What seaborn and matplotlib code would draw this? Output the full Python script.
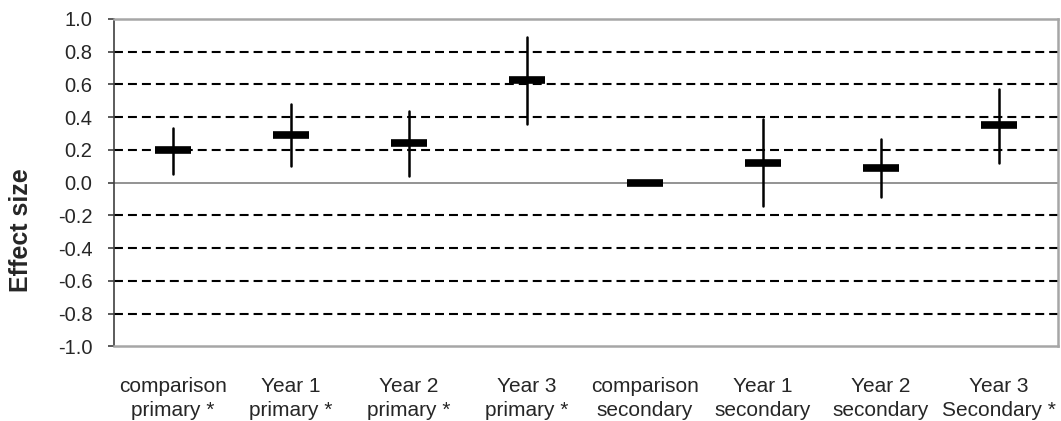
import matplotlib
matplotlib.use("Agg")
import matplotlib.pyplot as plt
import seaborn as sns
import pandas as pd

# effect sizes, with the lower / upper ends of each interval
groups = ["comparison\nprimary *", "Year 1\nprimary *", "Year 2\nprimary *", "Year 3\nprimary *",
          "comparison\nsecondary", "Year 1\nsecondary", "Year 2\nsecondary", "Year 3\nSecondary *"]
effect = [0.20, 0.29, 0.24, 0.63, 0.00, 0.12, 0.09, 0.35]
lower = [0.055, 0.10, 0.04, 0.36, 0.00, -0.14, -0.085, 0.12]
upper = [0.335, 0.48, 0.44, 0.89, 0.00, 0.39, 0.265, 0.575]
yticks = [-1.0, -0.8, -0.6, -0.4, -0.2, 0.0, 0.2, 0.4, 0.6, 0.8, 1.0]

# long form: three rows per group, median gives the estimate, min/max the interval
rows = []
for g, lo, e, hi in zip(groups, lower, effect, upper):
    for v in (lo, e, hi):
        rows.append({"group": g, "value": v})
df = pd.DataFrame(rows)

sns.set_style("white")
plt.rcParams["font.family"] = ["Liberation Sans", "DejaVu Sans"]

fig, ax = plt.subplots(figsize=(10.61, 4.21), dpi=100)
fig.subplots_adjust(left=0.1074, right=0.997, top=0.955, bottom=0.177)

# dashed grid, solid grey zero line
for y in yticks:
    if y == 0.0:
        ax.axhline(y, color="#808080", lw=1.2, zorder=1)
    elif abs(y) < 1.0:
        ax.axhline(y, color="black", lw=1.5, ls=(0, (4.3, 2.4)), zorder=1)

sns.pointplot(data=df, x="group", y="value", order=groups,
              estimator="median", errorbar=lambda v: (v.min(), v.max()),
              color="black", markers="_", linestyles="none",
              markersize=26, markeredgewidth=5.5,
              err_kws={"linewidth": 1.8}, ax=ax, zorder=3)

ax.set_ylim(-1.0, 1.0)
ax.set_xlim(-0.5, len(groups) - 0.5)
ax.set_yticks(yticks)
ax.set_yticklabels([f"{t:.1f}" for t in yticks], fontsize=14.5)
ax.tick_params(axis="y", direction="out", length=4.5, width=1.2, color="#404040", left=True, pad=11)
ax.tick_params(axis="x", length=0, labelsize=15, pad=22)
for lbl in ax.get_xticklabels():
    lbl.set_linespacing(1.3)
ax.set_xlabel("")
ax.set_ylabel("Effect size", fontsize=18, fontweight="bold")
ax.yaxis.set_label_coords(-0.0858, 0.356)

for side in ["top", "right", "bottom"]:
    ax.spines[side].set_color("#a6a6a6")
    ax.spines[side].set_linewidth(1.8)
ax.spines["left"].set_color("#404040")
ax.spines["left"].set_linewidth(1.2)

fig.savefig("out.png", dpi=100)
